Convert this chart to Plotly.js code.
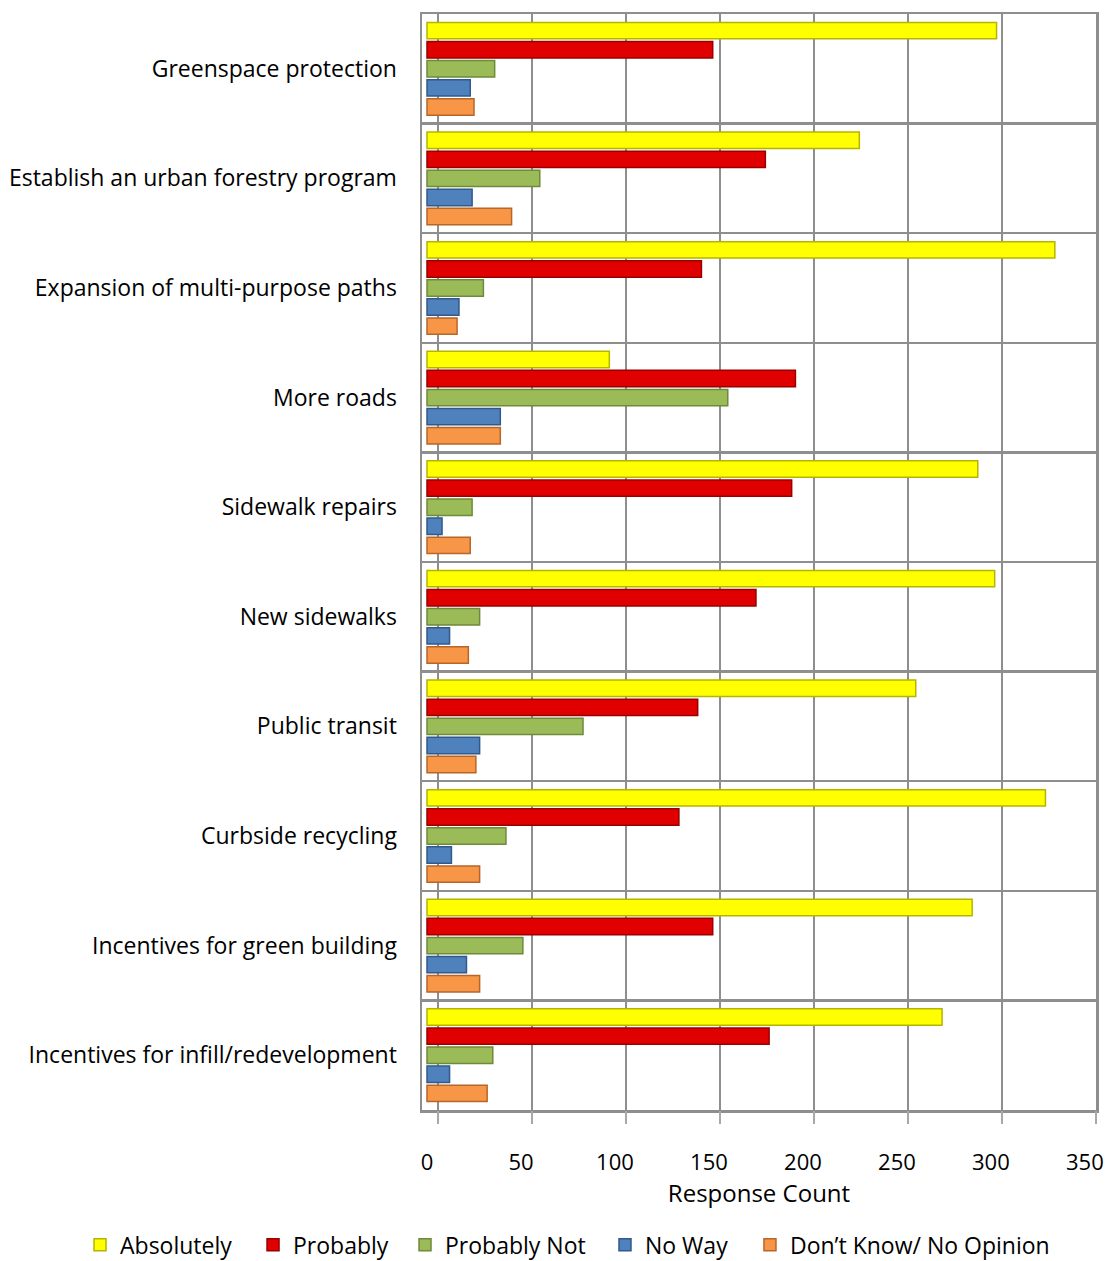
<!DOCTYPE html>
<html>
<head>
<meta charset="utf-8">
<script src="https://cdn.plot.ly/plotly-3.0.1.min.js"></script>
<style>html,body{margin:0;padding:0;background:#fff;}#chart{width:1107px;height:1261px;}</style>
</head>
<body>
<div id="chart"></div>
<script>
const categories = [
  "Greenspace protection",
  "Establish an urban forestry program",
  "Expansion of multi-purpose paths",
  "More roads",
  "Sidewalk repairs",
  "New sidewalks",
  "Public transit",
  "Curbside recycling",
  "Incentives for green building",
  "Incentives for infill/redevelopment"
];
const seriesNames = ["Absolutely", "Probably", "Probably Not", "No Way", "Don\u2019t Know/ No Opinion"];
const absolutely   = [303, 230, 334, 97, 293, 302, 260, 329, 290, 274];
const probably     = [152, 180, 146, 196, 194, 175, 144, 134, 152, 182];
const probablyNot  = [36, 60, 30, 160, 24, 28, 83, 42, 51, 35];
const noWay        = [23, 24, 17, 39, 8, 12, 28, 13, 21, 12];
const dontKnow     = [25, 45, 16, 39, 23, 22, 26, 28, 28, 32];
const tickValues   = [0, 50, 100, 150, 200, 250, 300, 350];

const seriesValues = [absolutely, probably, probablyNot, noWay, dontKnow];
const fills  = ["#FFFF00", "#E00000", "#9BBB59", "#4F81BD", "#F79646"];
const edges  = ["#B5B500", "#990000", "#6E8A3A", "#30598C", "#B8652A"];
const legendX = [-0.5074, -0.2507, -0.0252, 0.2715, 0.4866];

const traces = seriesValues.map((vals, i) => ({
  type: "bar",
  orientation: "h",
  name: seriesNames[i],
  x: vals,
  y: categories,
  legend: i === 0 ? "legend" : "legend" + (i + 1),
  marker: {color: fills[i], line: {color: edges[i], width: 1.5}},
  hoverinfo: "x+name"
}));
// empty helper trace so the back-wall grid axis (x2) is created
traces.push({type: "scatter", mode: "none", x: [], y: [], xaxis: "x2", yaxis: "y",
             showlegend: false, hoverinfo: "skip"});

const FONT = "'Open Sans', Lato, sans-serif";
const grid = "#8E8E8E";

const layout = {
  width: 1107,
  height: 1261,
  margin: {l: 422, r: 11, t: 14, b: 151, pad: 0, autoexpand: false},
  paper_bgcolor: "#ffffff",
  plot_bgcolor: "#ffffff",
  barmode: "group",
  bargap: 0.13,
  bargroupgap: 0.14,
  font: {family: FONT, size: 22, color: "#000000"},
  showlegend: true,
  xaxis: {
    range: [-2.66, 355.9],
    tickvals: tickValues,
    ticktext: tickValues.map(String),
    showgrid: false,
    zeroline: false,
    showline: true,
    linecolor: grid,
    linewidth: 2.5,
    mirror: true,
    ticks: "",
    automargin: false,
    ticklabelstandoff: 31,
    tickfont: {family: FONT, size: 22, color: "#000"},
    title: {text: "Response Count", font: {family: FONT, size: 24, color: "#000"}, standoff: 1}
  },
  xaxis2: {
    overlaying: "x",
    anchor: "y",
    side: "bottom",
    range: [-8.5, 350],
    tickvals: tickValues,
    showticklabels: false,
    showgrid: true,
    gridcolor: grid,
    gridwidth: 2.5,
    zeroline: false,
    automargin: false,
    ticks: "outside",
    ticklen: 13,
    tickwidth: 2.5,
    tickcolor: "#A8A8A8"
  },
  yaxis: {
    type: "category",
    autorange: "reversed",
    tickson: "boundaries",
    showgrid: true,
    gridcolor: grid,
    gridwidth: 2.5,
    showline: true,
    linecolor: grid,
    linewidth: 2.5,
    mirror: true,
    ticks: "",
    automargin: false,
    ticklabelstandoff: 18,
    tickfont: {family: FONT, size: 23, color: "#000"}
  }
};

legendX.forEach((lx, i) => {
  layout[i === 0 ? "legend" : "legend" + (i + 1)] = {
    orientation: "h",
    x: lx, xanchor: "left",
    y: -0.123, yanchor: "middle",
    bgcolor: "rgba(0,0,0,0)",
    font: {family: FONT, size: 23, color: "#000"},
    itemwidth: 30
  };
});

Plotly.newPlot("chart", traces, layout, {displayModeBar: false, staticPlot: true});
</script>
</body>
</html>
